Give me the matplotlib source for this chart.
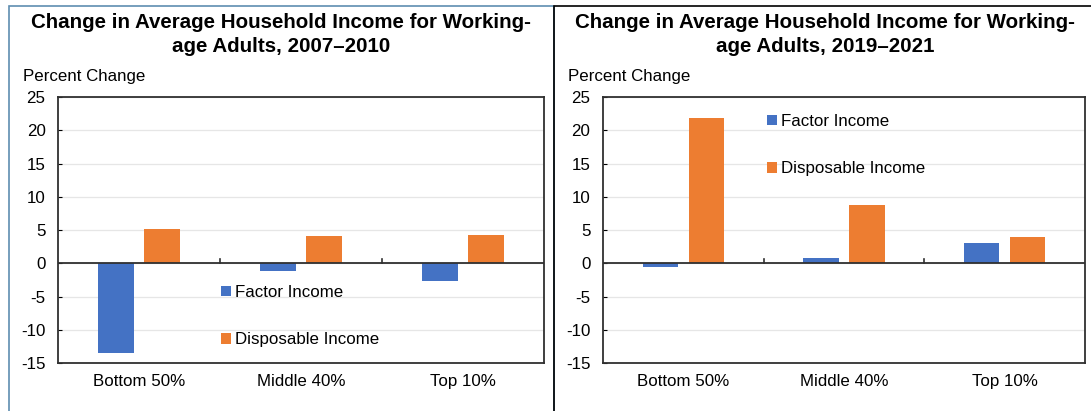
import matplotlib
matplotlib.use("Agg")
import matplotlib.pyplot as plt
import matplotlib.patches as patches
import numpy as np

plt.rcParams['font.family'] = ['Liberation Sans', 'DejaVu Sans']
plt.rcParams['axes.unicode_minus'] = False

# Income groups and percent changes
groups = ["Bottom 50%", "Middle 40%", "Top 10%"]
series_names = ["Factor Income", "Disposable Income"]
factor_0710 = [-13.5, -1.2, -2.7]
dispos_0710 = [5.2, 4.1, 4.2]
factor_1921 = [-0.5, 0.8, 3.1]
dispos_1921 = [21.9, 8.7, 3.9]
titles = ["Change in Average Household Income for Working-\nage Adults, 2007\u20132010",
          "Change in Average Household Income for Working-\nage Adults, 2019\u20132021"]

blue = '#4472c4'
orange = '#ed7d31'

W, H = 1091, 411
fig = plt.figure(figsize=(W / 100, H / 100), dpi=100)

def px(x0, y0, x1, y1):
    # pixel box (top-left origin) -> figure fraction rect
    return [x0 / W, 1 - y1 / H, (x1 - x0) / W, (y1 - y0) / H]

# panel frames
fig.patches.append(patches.Rectangle((9 / W, -0.1), (554 - 9) / W, 1 - 6 / H + 0.1,
                                     transform=fig.transFigure, fill=False,
                                     edgecolor='#5f8db0', lw=1.2))
fig.patches.append(patches.Rectangle((554 / W, -0.1), 0.5, 1 - 6 / H + 0.1,
                                     transform=fig.transFigure, fill=False,
                                     edgecolor='black', lw=1.2))

def draw_panel(rect, title, title_x, label_x, factor, dispos, legend_xy):
    ax = fig.add_axes(rect)
    x = np.arange(len(groups))
    ax.bar(x - 0.143, factor, 0.22, color=blue, label=series_names[0], zorder=3)
    ax.bar(x + 0.143, dispos, 0.22, color=orange, label=series_names[1], zorder=3)
    ax.set_xlim(-0.5, 2.5)
    ax.set_ylim(-15, 25)
    ax.set_yticks(range(-15, 26, 5))
    ax.yaxis.grid(True, color='#e6e6e6', lw=0.9, zorder=0)
    ax.axhline(0, color='#303030', lw=1.3, zorder=4)
    # category separators on the zero line
    for b in [0.5, 1.5]:
        ax.plot([b, b], [0, 0.7], color='#303030', lw=1.2, zorder=4)
    ax.set_xticks(x)
    ax.set_xticklabels(groups, fontsize=12.2)
    ax.tick_params(axis='x', length=0, pad=8)
    ax.tick_params(axis='y', direction='in', length=3, labelsize=12.2, pad=9)
    for s in ax.spines.values():
        s.set_color('#303030')
        s.set_linewidth(1.3)
    ax.set_axisbelow(True)
    fig.text(label_x / W, 1 - 77 / H, "Percent Change", fontsize=12.2,
             ha='left', va='center')
    fig.text(title_x / W, 1 - 13 / H, title, ha='center', va='top',
             fontsize=14.8, fontweight='bold', linespacing=1.3)
    ax.legend(loc='upper left', bbox_to_anchor=(legend_xy[0] / W, 1 - legend_xy[1] / H),
              bbox_transform=fig.transFigure, frameon=False, fontsize=12.2,
              handlelength=0.6, handleheight=0.6, handletextpad=0.2,
              labelspacing=1.9, borderpad=0, borderaxespad=0)
    return ax

draw_panel(px(58, 97, 544, 363), titles[0], 281, 23, factor_0710, dispos_0710, (221, 285))
draw_panel(px(603, 97, 1085, 363), titles[1], 825, 568, factor_1921, dispos_1921, (767, 114))

fig.savefig("out.png", dpi=100)
